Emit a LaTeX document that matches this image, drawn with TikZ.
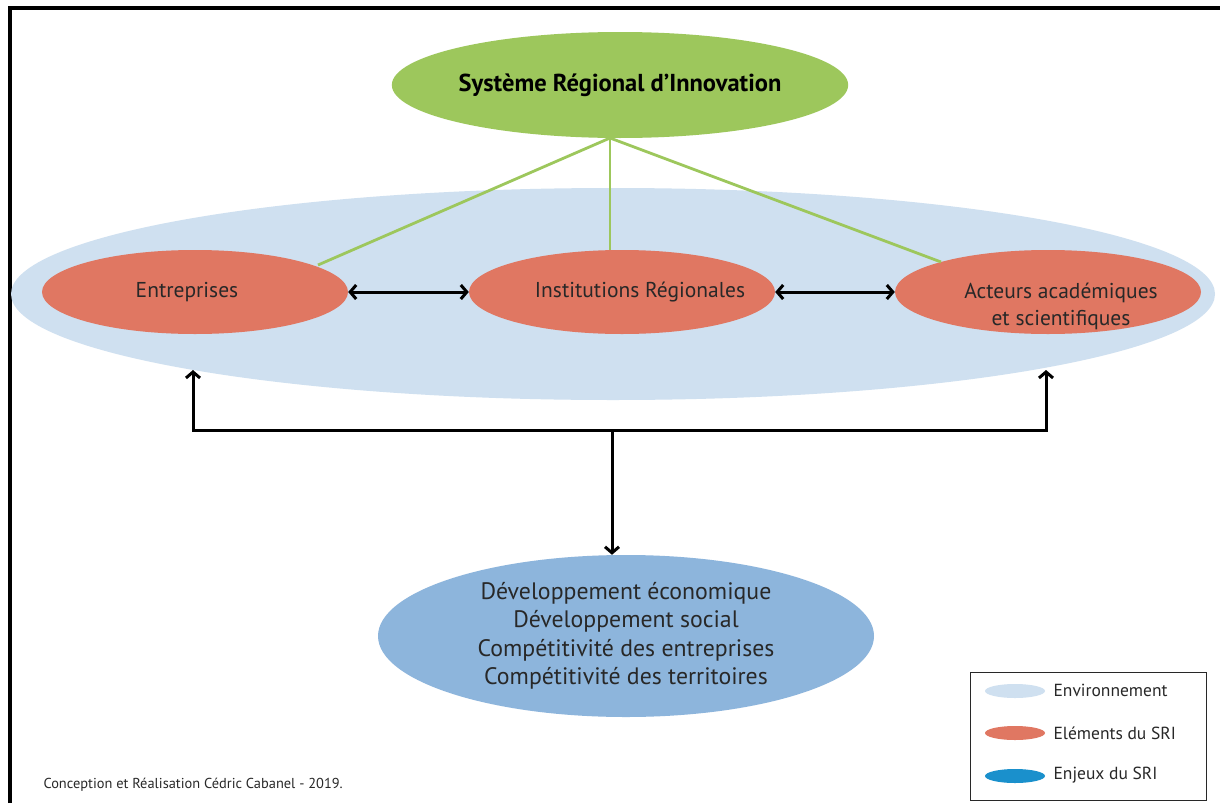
\documentclass[tikz,border=0pt]{standalone}
\usepackage{fontspec}
\setmainfont{PT Sans}
\usepackage{tikz}
\usetikzlibrary{shapes.geometric}
\usetikzlibrary{arrows.meta}
\usetikzlibrary{positioning}
\definecolor{envblue}{HTML}{CFE0F0}
\definecolor{srigreen}{HTML}{9DC75C}
\definecolor{srired}{HTML}{E07762}
\definecolor{enjeublue}{HTML}{8DB5DC}
\definecolor{legblue}{HTML}{1A90CC}
\definecolor{txtgrey}{HTML}{282828}
\tikzset{
  elem/.style={ellipse, fill=srired, inner sep=0pt, minimum width=306pt, minimum height=84pt},
  elemtxt/.style={text=txtgrey, font=\fontsize{21.5}{27}\selectfont, align=center},
  link/.style={srigreen, line width=2.8pt},
  barb/.tip={Straight Barb[length=6pt,width=14pt]},
  flow/.style={line width=3pt, barb-barb},
  legdot/.style={ellipse, inner sep=0pt, minimum width=60pt, minimum height=14pt},
  legtxt/.style={right, text=txtgrey, font=\fontsize{17.5}{20}\selectfont}
}

\begin{document}
\begin{tikzpicture}[x=1pt, y=-1pt]
\useasboundingbox (0,0) rectangle (1220,803);
\fill[white] (0,0) rectangle (1220,803);

% frame
\draw[line width=4pt] (10,803) -- (10,8) -- (1220,8);

% environnement
\node[ellipse, fill=envblue, inner sep=0pt, minimum width=1204pt, minimum height=212pt] (env) at (613,294) {};

% systeme
\node[ellipse, fill=srigreen, inner sep=0pt, minimum width=456pt, minimum height=106pt,
  font=\bfseries\fontsize{24.5}{28}\selectfont] (sri) at (620,85) {Système Régional d'Innovation};
\coordinate (hub) at (610,138);

%%% elements
\node[elem] (ent) at (195,292) {};
\node[elem] (inst) at (622,292) {};
\node[elem] (acad) at (1048,292) {};
\node[elemtxt] (enttxt) at (187,292) {Entreprises};
\node[elemtxt] (insttxt) at (640,292) {Institutions Régionales};
\node[elemtxt] (acadtxt) at (1061,306) {Acteurs académiques\\et scientifiques};

\draw[link] (hub) -- (318,265);
\draw[link] (hub) -- (inst.north -| hub);
\draw[link] (hub) -- (941,262);

\draw[flow] (ent.east) -- (inst.west);
\draw[flow] (inst.east) -- (acad.west);

%%% enjeux
\node[ellipse, fill=enjeublue, inner sep=0pt, minimum width=496pt, minimum height=162pt,
  text=txtgrey, font=\fontsize{23.8}{28.5}\selectfont, align=center] (enj) at (626,636)
  {Développement économique\\Développement social\\Compétitivité des entreprises\\Compétitivité des territoires};

\coordinate (bl) at (193,370);
\coordinate (br) at (1046,370);
\coordinate (mid) at (612,430);
\draw[flow] (bl) |- (mid) -| (br);
\draw[line width=3pt, -barb] (mid) -- (mid |- enj.north);

% legende
\node[draw=txtgrey, line width=1pt, minimum width=236pt, minimum height=128pt, inner sep=0pt] (leg) at (1088,736) {};
\node[legdot, fill=envblue] (l1) at (1015,691) {};
\node[legdot, fill=srired] (l2) at (1015,733) {};
\node[legdot, fill=legblue] (l3) at (1015,776) {};
\node[legtxt] (t1) at (1050,690) {Environnement};
\node[legtxt] (t2) at (1050,733) {Eléments du SRI};
\node[legtxt] (t3) at (1050,775) {Enjeux du SRI};

\node[right, text=txtgrey, font=\fontsize{14.4}{17}\selectfont] (credit) at (40,785)
  {Conception et Réalisation Cédric Cabanel - 2019.};
\end{tikzpicture}
\end{document}
